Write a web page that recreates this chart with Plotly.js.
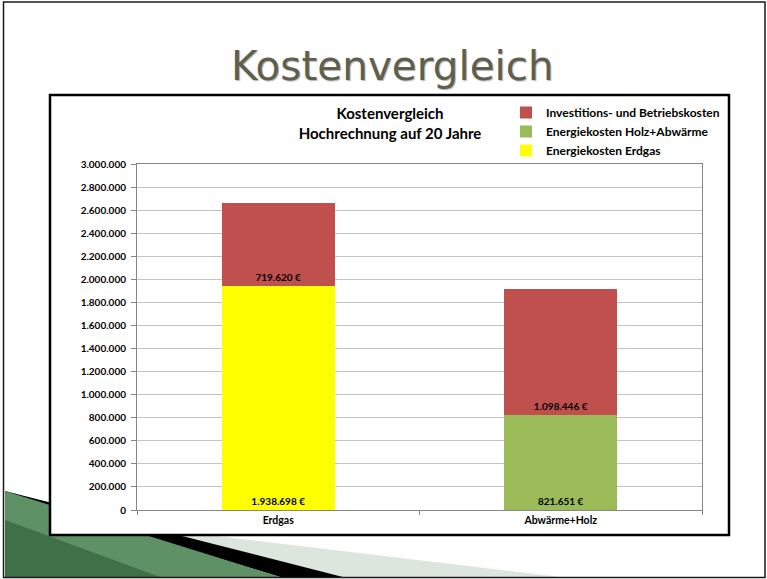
<!DOCTYPE html>
<html>
<head>
<meta charset="utf-8">
<script src="https://cdn.plot.ly/plotly-3.0.1.min.js"></script>
<style>html,body{margin:0;padding:0;background:#fff;}#chart{width:767px;height:579px;}</style>
</head>
<body>
<div id="chart"></div>
<script>
// ---- data ----
var categories = ['Erdgas', 'Abwärme+Holz'];
var erdgasCategory = ['Erdgas'];
var holzCategory = ['Abwärme+Holz'];
var energieErdgas = [1938698];
var energieHolz = [821651];
var investBetrieb = [719620, 1098446];
var seriesNames = ['Energiekosten Erdgas', 'Energiekosten Holz+Abwärme', 'Investitions- und Betriebskosten'];
var yTickValues = [0, 200000, 400000, 600000, 800000, 1000000, 1200000, 1400000, 1600000, 1800000, 2000000, 2200000, 2400000, 2600000, 2800000, 3000000];

// ---- layout helpers (pixel -> paper) ----
var W = 767, H = 579;
var PL = 137, PR = 702, PT = 164, PB = 510;
function px(x) { return (x - PL) / (PR - PL); }
function py(y) { return (PB - y) / (PB - PT); }
function path(pts) {
  return 'M' + pts.map(function (p) { return px(p[0]).toFixed(5) + ',' + py(p[1]).toFixed(5); }).join(' L') + ' Z';
}

var FONT = 'Lato, "Open Sans", sans-serif';
var labelFont = {family: FONT, size: 10, color: '#000', weight: 700};

var traces = [
  {type: 'bar', name: seriesNames[0], legendgroup: 'g0', x: erdgasCategory, y: energieErdgas,
   marker: {color: '#ffff00'}, texttemplate: '%{y:,.0f} €', textposition: 'inside',
   insidetextanchor: 'start', textfont: labelFont, hoverinfo: 'skip'},
  {type: 'bar', name: seriesNames[1], legendgroup: 'g1', x: holzCategory, y: energieHolz,
   marker: {color: '#9bbb59'}, texttemplate: '%{y:,.0f} €', textposition: 'inside',
   insidetextanchor: 'start', textfont: labelFont, hoverinfo: 'skip'},
  {type: 'bar', name: seriesNames[2], legendgroup: 'g2', x: categories, y: investBetrieb,
   marker: {color: '#c0504d'}, texttemplate: '%{y:,.0f} €', textposition: 'inside',
   insidetextanchor: 'start', textfont: labelFont, hoverinfo: 'skip'}
];

var shapes = [
  // slide decoration bottom-left
  {type: 'path', xref: 'paper', yref: 'paper', layer: 'below', line: {width: 0},
   fillcolor: '#dde6dc', path: path([[40, 515], [560, 577], [343, 577], [40, 500]])},
  {type: 'path', xref: 'paper', yref: 'paper', layer: 'below', line: {width: 0},
   fillcolor: '#000000', path: path([[5, 491], [343, 577], [280, 577], [5, 493]])},
  {type: 'path', xref: 'paper', yref: 'paper', layer: 'below', line: {width: 0},
   fillcolor: '#5e9165', path: path([[5, 491], [280, 577], [5, 577]])},
  {type: 'path', xref: 'paper', yref: 'paper', layer: 'below', line: {width: 0},
   fillcolor: '#3f7047', path: path([[5, 520], [160, 577], [5, 577]])},
  // chart box
  {type: 'rect', xref: 'paper', yref: 'paper', layer: 'below',
   x0: px(50), x1: px(729), y0: py(535), y1: py(95),
   fillcolor: '#ffffff', line: {color: '#000000', width: 2.5}},
  // slide border
  {type: 'rect', xref: 'paper', yref: 'paper', layer: 'above',
   x0: px(3.5), x1: px(765), y0: py(577.5), y1: py(2),
   line: {color: '#1a1a1a', width: 1.5}}
];

var layout = {
  width: W, height: H,
  margin: {l: PL, r: W - PR, t: PT, b: H - PB, pad: 0},
  paper_bgcolor: '#ffffff', plot_bgcolor: 'rgba(0,0,0,0)',
  separators: ',.',
  barmode: 'stack', bargap: 0.6,
  font: {family: FONT, color: '#000'},
  title: {text: 'Kostenvergleich<br>Hochrechnung auf 20 Jahre',
          font: {family: FONT, size: 15, color: '#000', weight: 700},
          xref: 'container', yref: 'container', x: 390 / W, xanchor: 'center',
          y: 1 - 119 / H, yanchor: 'top'},
  xaxis: {type: 'category', categoryorder: 'array', categoryarray: categories,
          showline: true, linecolor: '#868686', linewidth: 1, mirror: true,
          ticks: 'outside', tickson: 'boundaries', ticklen: 4, tickcolor: '#868686',
          tickfont: {family: FONT, size: 10.5, color: '#000', weight: 700},
          showgrid: false, zeroline: false, fixedrange: true},
  yaxis: {range: [0, 3000000], tickvals: yTickValues, tickformat: ',d',
          showline: true, linecolor: '#868686', linewidth: 1, mirror: true,
          ticks: 'outside', ticklen: 5, tickcolor: '#868686', ticklabelstandoff: 3,
          gridcolor: '#c4c4c4', gridwidth: 1, zeroline: false,
          tickfont: {family: FONT, size: 10, color: '#000', weight: 700},
          fixedrange: true},
  legend: {x: px(506), xanchor: 'left', y: py(98), yanchor: 'top',
           traceorder: 'reversed', tracegroupgap: 1.5, bgcolor: 'rgba(0,0,0,0)',
           font: {family: FONT, size: 12, color: '#000', weight: 700}},
  annotations: [
    {xref: 'paper', yref: 'paper', x: px(392), y: py(66), xanchor: 'center', yanchor: 'middle',
     text: 'Kostenvergleich', showarrow: false,
     font: {family: '"DejaVu Sans", sans-serif', size: 40.5, color: '#5e5f4d', shadow: '1px 1px 1px #b5b5b5'}}
  ],
  shapes: shapes,
  showlegend: true
};

Plotly.newPlot('chart', traces, layout, {displayModeBar: false, staticPlot: true});
</script>
</body>
</html>
